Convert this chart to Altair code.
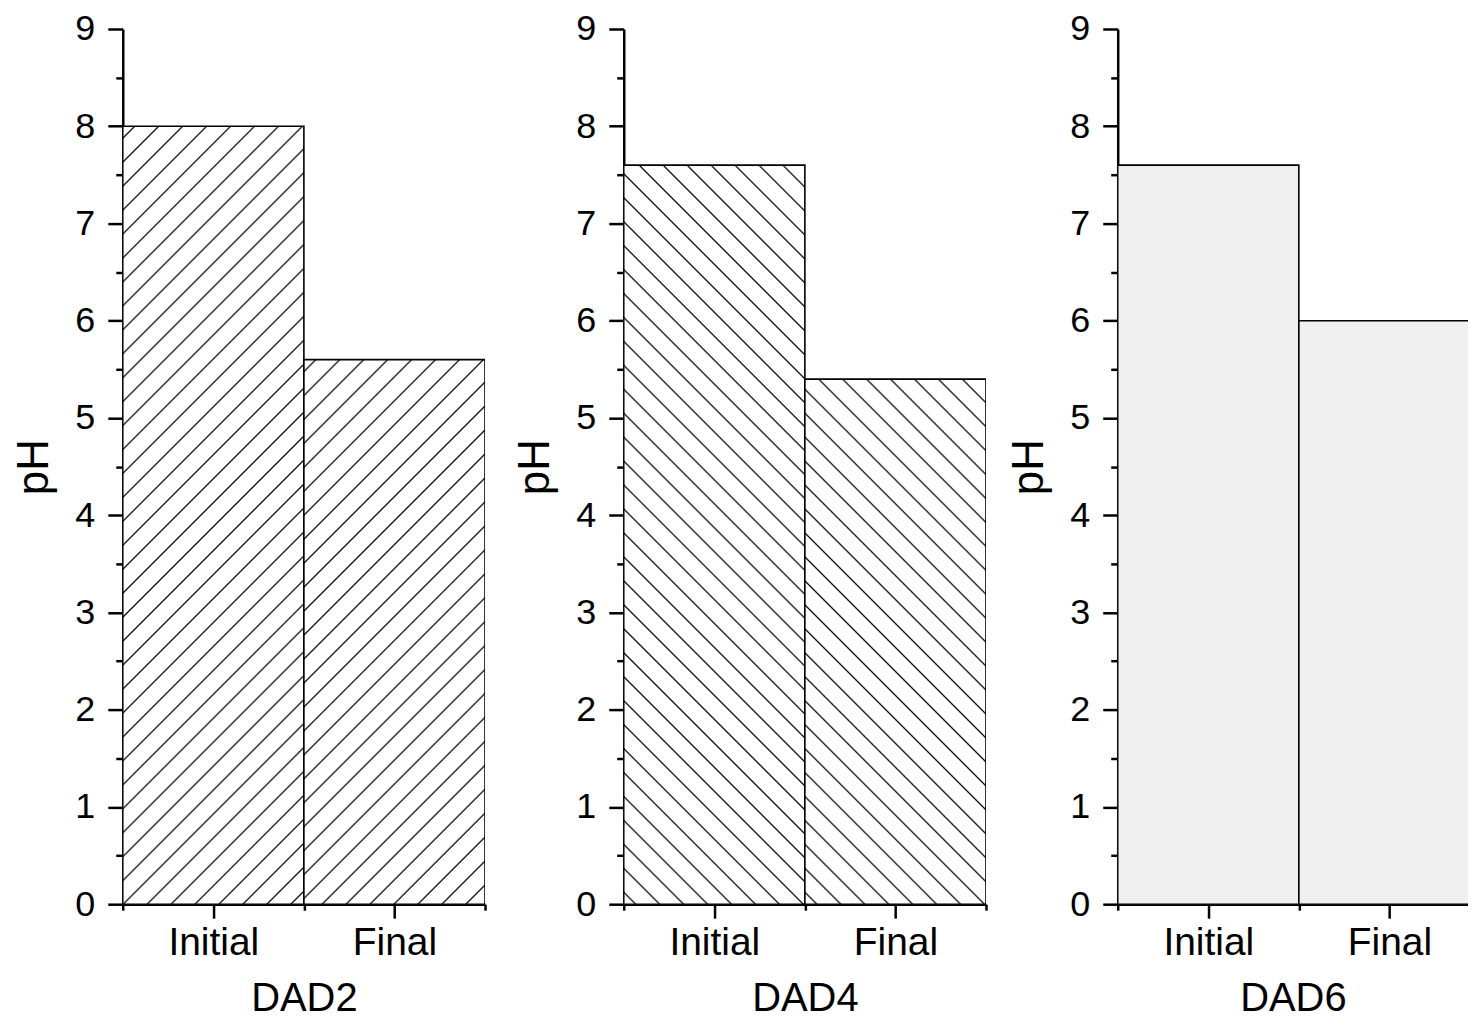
import altair as alt
import pandas as pd

samples = ["DAD2", "DAD4", "DAD6"]
stages = ["Initial", "Final"]
ph_initial = [8.0, 7.6, 7.6]
ph_final = [5.6, 5.4, 6.0]
y_ticks = [i * 0.5 for i in range(19)]
x_ticks_full = [0, 0.5, 1, 1.5, 2]
x_ticks_cut = [0, 0.5, 1, 1.5]

rows = []
for s, a, b in zip(samples, ph_initial, ph_final):
    for i, (st, v) in enumerate(zip(stages, [a, b])):
        rows.append({"sample": s, "stage": st, "ph": v, "start": i, "end": i + 1})
df = pd.DataFrame(rows)

PW = 363      # panel width
PH = 877      # plot height
UX = PW / 2.0
UY = PH / 9.0
FONT = "Liberation Sans"


def hatch(W, H, direction, spacing=24.0, half=1.8):
    S = W + H
    k = S / (W * W + H * H)
    if direction == "rise":
        x1, y1, x2, y2 = 0, 0, W * k, H * k
    else:
        x1, y1, x2, y2 = 0, 1, W * k, 1 - H * k
    stops = [{"offset": 0, "color": "#ffffff"}]
    c = spacing / 2.0
    while c + half < S:
        stops.append({"offset": (c - half) / S, "color": "#ffffff"})
        stops.append({"offset": c / S, "color": "#0a0a0a"})
        stops.append({"offset": (c + half) / S, "color": "#ffffff"})
        c += spacing
    stops.append({"offset": 1, "color": "#ffffff"})
    return {"gradient": "linear", "x1": x1, "y1": y1, "x2": x2, "y2": y2, "stops": stops}


def panel(sample, kind, xmax, width, xticks):
    sub = df[df["sample"] == sample]
    # the last panel is cut at the right edge, as in the source figure
    xcap = xmax + 2.5 / UX
    layers = []
    for _, r in sub.iterrows():
        W = UX
        H = r["ph"] * UY
        if kind == "dots":
            fill = "#efefef"
        else:
            fill = hatch(W, H, kind)
        x_axis = alt.Axis(
            values=xticks,
            labelExpr="datum.value === 0.5 ? 'Initial' : (datum.value === 1.5 ? 'Final' : '')",
            tickSize={"condition": {"test": "datum.value % 1 === 0", "value": 6}, "value": 14},
            labelPadding=5,
            title=sample,
            titlePadding=17,
        )
        y_axis = alt.Axis(
            values=y_ticks,
            labelExpr="datum.value % 1 === 0 ? format(datum.value, 'd') : ''",
            tickSize={"condition": {"test": "datum.value % 1 !== 0", "value": 7}, "value": 15},
            labelPadding=13,
            title="pH",
            titlePadding=18,
        )
        layer = alt.Chart(df).transform_filter(
            (alt.datum.sample == sample) & (alt.datum.stage == r["stage"])
        ).transform_calculate(
            end_c=f"min(datum.end, {xcap})"
        ).mark_bar(
            fill=fill, stroke="#000000", strokeWidth=1.6, clip=True
        ).encode(
            x=alt.X("start:Q", scale=alt.Scale(domain=[0, xmax], nice=False, zero=False), axis=x_axis),
            x2="end_c:Q",
            y=alt.Y("ph:Q", scale=alt.Scale(domain=[0, 9], nice=False), axis=y_axis),
            y2=alt.datum(0),
        )
        layers.append(layer)
    return alt.layer(*layers).properties(width=width, height=PH)


p1 = panel("DAD2", "rise", 2, PW, x_ticks_full)
p2 = panel("DAD4", "fall", 2, PW, x_ticks_full)
w3 = 351
p3 = panel("DAD6", "dots", w3 / UX, w3, x_ticks_cut)

chart = alt.hconcat(
    alt.hconcat(p1, p2, spacing=26), p3, spacing=19
).properties(
    padding={"left": 4, "top": 2, "right": 0, "bottom": 0}
).configure_view(
    strokeWidth=0
).configure_axis(
    domainColor="#000000", domainWidth=2.5, tickColor="#000000", tickWidth=2.5,
    labelColor="#000000", titleColor="#000000", labelFont=FONT, titleFont=FONT,
    labelFontSize=36, titleFontSize=40, titleFontWeight="normal", grid=False,
).configure_axisX(
    labelFontSize=39,
).configure_axisY(
    titleFontSize=44,
).configure_concat(spacing=30)

chart.save("out.html", embed_options={"renderer": "svg", "actions": False})
